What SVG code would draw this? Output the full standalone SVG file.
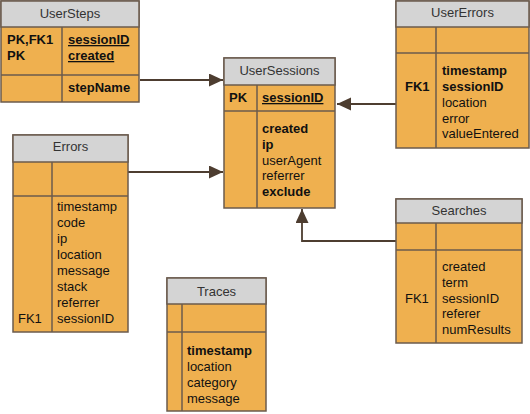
<svg xmlns="http://www.w3.org/2000/svg" width="530" height="414" viewBox="0 0 530 414">
<style>
.hd{fill:#d4d4d4;stroke:#6b5b4d;stroke-width:1.5}
.bd{fill:#efb04f;stroke:#6b5b4d;stroke-width:1.5}
.ln{stroke:#6b5b4d;stroke-width:1.5;fill:none}
.ht{font-family:"Liberation Sans",Arial,sans-serif;font-size:13px;fill:#333;text-anchor:middle}
.t{font-family:"Liberation Sans",Arial,sans-serif;font-size:13px;fill:#111}
.b{font-weight:bold}
.u{text-decoration:underline}
.c{stroke:#4d3d30;stroke-width:1.8;fill:none;marker-end:url(#ah)}
</style>
<defs>
<marker id="ah" markerUnits="userSpaceOnUse" markerWidth="15" markerHeight="14" refX="14" refY="6.5" orient="auto">
<path d="M0,0 L14,6.5 L0,13 z" fill="#4d3d30"/>
</marker>
</defs>
<rect width="530" height="414" fill="#fff"/>

<g id="connectors">
<path class="c" d="M140,80 H223"/>
<path class="c" d="M128,172 H223"/>
<path class="c" d="M396,104 H337"/>
<path class="c" d="M396,241 H302 V209"/>
</g>

<g id="UserSteps">
<rect class="bd" x="1" y="1" width="138" height="101"/>
<rect class="hd" x="1" y="1" width="138" height="26"/>
<line class="ln" x1="1" y1="75" x2="139" y2="75"/>
<line class="ln" x1="62" y1="27" x2="62" y2="102"/>
<text class="ht" x="70" y="18">UserSteps</text>
<text class="t b" x="7" y="44">PK,FK1</text>
<text class="t b" x="7" y="60">PK</text>
<text class="t b u" x="68" y="44">sessionID</text>
<text class="t b u" x="68" y="60">created</text>
<text class="t b" x="68" y="92">stepName</text>
</g>

<g id="UserSessions">
<rect class="bd" x="224" y="58" width="111" height="150"/>
<rect class="hd" x="224" y="58" width="111" height="27"/>
<line class="ln" x1="224" y1="111" x2="335" y2="111"/>
<line class="ln" x1="257" y1="85" x2="257" y2="208"/>
<text class="ht" x="279.5" y="75">UserSessions</text>
<text class="t b" x="229" y="102">PK</text>
<text class="t b u" x="262" y="102">sessionID</text>
<text class="t b" x="262" y="133">created</text>
<text class="t b" x="262" y="149">ip</text>
<text class="t" x="262" y="165">userAgent</text>
<text class="t" x="262" y="180">referrer</text>
<text class="t b" x="262" y="196">exclude</text>
</g>

<g id="UserErrors">
<rect class="bd" x="396" y="1" width="133" height="147"/>
<rect class="hd" x="396" y="1" width="133" height="26"/>
<line class="ln" x1="396" y1="53" x2="529" y2="53"/>
<line class="ln" x1="436" y1="27" x2="436" y2="148"/>
<text class="ht" x="462.5" y="17">UserErrors</text>
<text class="t b" x="405" y="91">FK1</text>
<text class="t b" x="442" y="75">timestamp</text>
<text class="t b" x="442" y="91">sessionID</text>
<text class="t" x="442" y="107">location</text>
<text class="t" x="442" y="123">error</text>
<text class="t" x="442" y="138">valueEntered</text>
</g>

<g id="Errors">
<rect class="bd" x="13" y="135" width="115" height="197"/>
<rect class="hd" x="13" y="135" width="115" height="27"/>
<line class="ln" x1="13" y1="196" x2="128" y2="196"/>
<line class="ln" x1="52" y1="162" x2="52" y2="332"/>
<text class="ht" x="70.5" y="151">Errors</text>
<text class="t" x="18" y="323">FK1</text>
<text class="t" x="57" y="211">timestamp</text>
<text class="t" x="57" y="227">code</text>
<text class="t" x="57" y="243">ip</text>
<text class="t" x="57" y="259">location</text>
<text class="t" x="57" y="275">message</text>
<text class="t" x="57" y="291">stack</text>
<text class="t" x="57" y="307">referrer</text>
<text class="t" x="57" y="323">sessionID</text>
</g>

<g id="Searches">
<rect class="bd" x="396" y="199" width="126" height="144"/>
<rect class="hd" x="396" y="199" width="126" height="24"/>
<line class="ln" x1="396" y1="250" x2="522" y2="250"/>
<line class="ln" x1="436" y1="223" x2="436" y2="343"/>
<text class="ht" x="459" y="215">Searches</text>
<text class="t" x="405" y="303">FK1</text>
<text class="t" x="442" y="271">created</text>
<text class="t" x="442" y="287">term</text>
<text class="t" x="442" y="303">sessionID</text>
<text class="t" x="442" y="318">referer</text>
<text class="t" x="442" y="334">numResults</text>
</g>

<g id="Traces">
<rect class="bd" x="167" y="278" width="99" height="133"/>
<rect class="hd" x="167" y="278" width="99" height="26"/>
<line class="ln" x1="167" y1="332" x2="266" y2="332"/>
<line class="ln" x1="182" y1="304" x2="182" y2="411"/>
<text class="ht" x="216.5" y="296">Traces</text>
<text class="t b" x="187" y="355">timestamp</text>
<text class="t" x="187" y="371">location</text>
<text class="t" x="187" y="387">category</text>
<text class="t" x="187" y="403">message</text>
</g>
</svg>
